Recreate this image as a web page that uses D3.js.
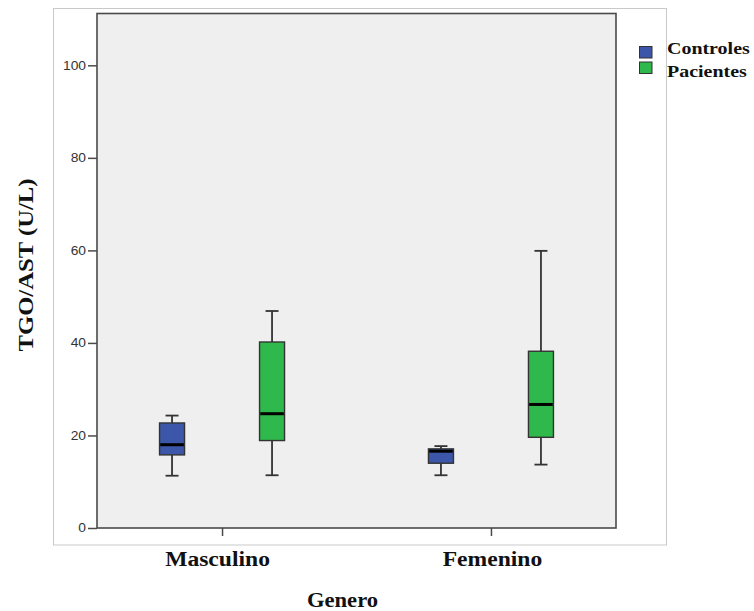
<!DOCTYPE html>
<html>
<head>
<meta charset="utf-8">
<script src="https://cdn.jsdelivr.net/npm/d3@7"></script>
<style>
  html, body { margin: 0; padding: 0; background: #ffffff; }
  svg { display: block; }
</style>
</head>
<body>
<svg id="chart" width="754" height="611"></svg>
<script>
// Categories and groups
const categories = ["Masculino", "Femenino"];
const groups = ["Controles", "Pacientes"];
const groupColors = ["#3c56a9", "#2fb84b"];

// Box-plot summaries (U/L), one value per category
const controlesMin    = [11.3, 11.4];
const controlesQ1     = [15.8, 14.0];
const controlesMedian = [18.0, 16.6];
const controlesQ3     = [22.7, 17.1];
const controlesMax    = [24.3, 17.7];

const pacientesMin    = [11.4, 13.7];
const pacientesQ1     = [18.9, 19.6];
const pacientesMedian = [24.7, 26.7];
const pacientesQ3     = [40.2, 38.2];
const pacientesMax    = [46.9, 59.9];

const yTicks = [0, 20, 40, 60, 80, 100];
const yMax = 111.2;

const yTitle = "TGO/AST (U/L)";
const xTitle = "Genero";

// Build rows for drawing
const stats = [
  { min: controlesMin, q1: controlesQ1, med: controlesMedian, q3: controlesQ3, max: controlesMax },
  { min: pacientesMin, q1: pacientesQ1, med: pacientesMedian, q3: pacientesQ3, max: pacientesMax }
];
const rows = [];
categories.forEach((c, i) => {
  groups.forEach((g, j) => {
    const s = stats[j];
    rows.push({ cat: c, group: g, color: groupColors[j],
      min: s.min[i], q1: s.q1[i], med: s.med[i], q3: s.q3[i], max: s.max[i] });
  });
});

const svg = d3.select("#chart");
const plot = { left: 97, right: 616, top: 13.5, bottom: 528 };
const serif = "'Liberation Serif', 'Times New Roman', serif";
const sans = "'Liberation Sans', Arial, sans-serif";
const STRETCH = 1.15;

// widen text horizontally (glyphs stretched)
function stretch(sel, k) {
  sel.each(function () {
    const w = this.getComputedTextLength();
    d3.select(this).attr("textLength", w * k).attr("lengthAdjust", "spacingAndGlyphs");
  });
}

// Outer frame
svg.append("rect")
  .attr("x", 53.5).attr("y", 8.5).attr("width", 613).attr("height", 536.5)
  .attr("fill", "#ffffff").attr("stroke", "#c9c9c9").attr("stroke-width", 1);

// Scales
const y = d3.scaleLinear().domain([0, yMax]).range([plot.bottom, plot.top]);
const x = d3.scalePoint().domain(categories).range([plot.left, plot.right]).padding(0.465);
const xg = d3.scalePoint().domain(groups).range([-50, 50]);
const boxW = 25, capW = 13;

// Plot background
svg.append("rect")
  .attr("x", plot.left).attr("y", plot.top)
  .attr("width", plot.right - plot.left).attr("height", plot.bottom - plot.top)
  .attr("fill", "#efefef").attr("stroke", "#4a4a4a").attr("stroke-width", 1.6);

// Y axis
const yAxis = svg.append("g")
  .attr("transform", `translate(${plot.left},0)`)
  .call(d3.axisLeft(y).tickValues(yTicks).tickSize(9).tickPadding(2).tickFormat(d3.format("d")));
yAxis.select(".domain").remove();
yAxis.selectAll(".tick line").attr("stroke", "#4a4a4a").attr("stroke-width", 1.5);
yAxis.selectAll(".tick text")
  .attr("font-family", sans).attr("font-size", 12).attr("fill", "#333")
  .call(stretch, STRETCH);

// X axis
const xAxis = svg.append("g")
  .attr("transform", `translate(0,${plot.bottom})`)
  .call(d3.axisBottom(x).tickSize(8).tickPadding(15));
xAxis.select(".domain").remove();
xAxis.selectAll(".tick line").attr("stroke", "#4a4a4a").attr("stroke-width", 1.5);
xAxis.selectAll(".tick text")
  .attr("font-family", serif).attr("font-weight", "bold").attr("font-size", 20.5)
  .attr("fill", "#111").attr("dy", "0.71em")
  .attr("dx", (d, i) => i === 0 ? -5 : 1)
  .call(stretch, STRETCH);

// Boxes
const boxes = svg.append("g").selectAll("g.box")
  .data(rows).join("g")
  .attr("class", "box")
  .attr("transform", d => `translate(${x(d.cat) + xg(d.group)},0)`);

// whiskers
boxes.append("line")
  .attr("x1", 0).attr("x2", 0)
  .attr("y1", d => y(d.max)).attr("y2", d => y(d.q3))
  .attr("stroke", "#333").attr("stroke-width", 1.8);
boxes.append("line")
  .attr("x1", 0).attr("x2", 0)
  .attr("y1", d => y(d.q1)).attr("y2", d => y(d.min))
  .attr("stroke", "#333").attr("stroke-width", 1.8);
boxes.append("line")
  .attr("x1", -capW / 2).attr("x2", capW / 2)
  .attr("y1", d => y(d.max)).attr("y2", d => y(d.max))
  .attr("stroke", "#333").attr("stroke-width", 1.8);
boxes.append("line")
  .attr("x1", -capW / 2).attr("x2", capW / 2)
  .attr("y1", d => y(d.min)).attr("y2", d => y(d.min))
  .attr("stroke", "#333").attr("stroke-width", 1.8);

// box
boxes.append("rect")
  .attr("x", -boxW / 2).attr("width", boxW)
  .attr("y", d => y(d.q3)).attr("height", d => y(d.q1) - y(d.q3))
  .attr("fill", d => d.color).attr("stroke", "#333").attr("stroke-width", 1.4);

// median
boxes.append("line")
  .attr("x1", -boxW / 2 + 0.7).attr("x2", boxW / 2 - 0.7)
  .attr("y1", d => y(d.med)).attr("y2", d => y(d.med))
  .attr("stroke", "#000").attr("stroke-width", 3);

// Axis titles
svg.append("text")
  .attr("transform", "translate(33,265) rotate(-90)")
  .attr("text-anchor", "middle")
  .attr("font-family", serif).attr("font-weight", "bold").attr("font-size", 21)
  .attr("fill", "#111")
  .attr("textLength", 173).attr("lengthAdjust", "spacingAndGlyphs")
  .text(yTitle);

svg.append("text")
  .attr("x", 342.5).attr("y", 607)
  .attr("text-anchor", "middle")
  .attr("font-family", serif).attr("font-weight", "bold").attr("font-size", 20)
  .attr("fill", "#111")
  .text(xTitle)
  .call(stretch, 1.13);

// Legend
const legendSwatchY = [46.5, 62];
const legendTextY = [53.5, 76.8];
const legend = svg.append("g");
groups.forEach((g, i) => {
  legend.append("rect")
    .attr("x", 639.5).attr("y", legendSwatchY[i])
    .attr("width", 12.5).attr("height", 11.5)
    .attr("fill", groupColors[i]).attr("stroke", "#333").attr("stroke-width", 1);
  legend.append("text")
    .attr("x", 667).attr("y", legendTextY[i])
    .attr("font-family", serif).attr("font-weight", "bold").attr("font-size", 17.5)
    .attr("fill", "#111")
    .text(g)
    .call(stretch, 1.14);
});
</script>
</body>
</html>
